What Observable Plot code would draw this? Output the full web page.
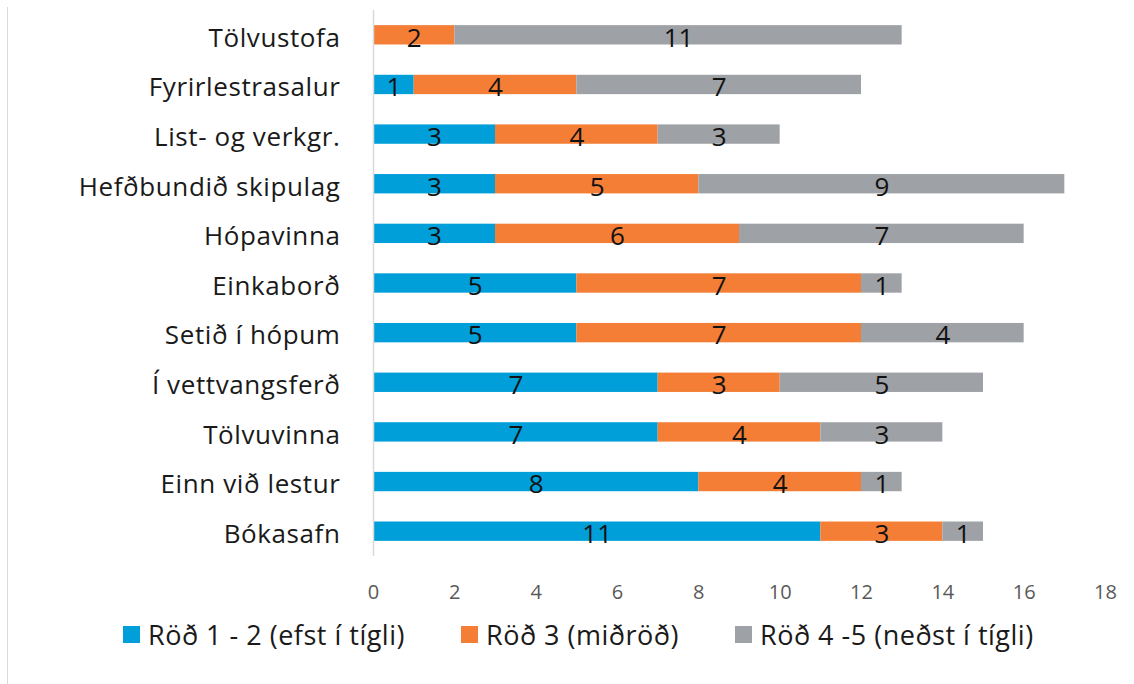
<!DOCTYPE html>
<html>
<head>
<meta charset="utf-8">
<script src="https://cdn.jsdelivr.net/npm/d3@7"></script>
<script src="https://cdn.jsdelivr.net/npm/@observablehq/plot@0.6"></script>
<style>
  body { margin: 0; background: #fff; font-family: "Open Sans", sans-serif; }
  #wrap { position: relative; width: 1134px; height: 684px; overflow: hidden; }
  #border { position: absolute; left: 7px; top: 7px; bottom: 0; border-left: 1px solid #d9d9d9; }
  #legend { position: absolute; top: 615px; left: 0; width: 1134px; height: 38px; font-size: 27px; letter-spacing: 0.5px; color: #1a1a1a; }
  .li { position: absolute; top: 0; height: 38px; display: flex; align-items: center; white-space: nowrap; }
  .sw { width: 17px; height: 17px; margin-right: 8px; }
  svg g[aria-label="y-axis tick label"] text { letter-spacing: 0.6px; }
</style>
</head>
<body>
<div id="wrap"><div id="border"></div><div id="chart"></div><div id="legend"></div></div>
<script>
const categories = ["Tölvustofa", "Fyrirlestrasalur", "List- og verkgr.", "Hefðbundið skipulag", "Hópavinna", "Einkaborð", "Setið í hópum", "Í vettvangsferð", "Tölvuvinna", "Einn við lestur", "Bókasafn"];
const series = ["Röð 1 - 2 (efst í tígli)", "Röð 3 (miðröð)", "Röð 4 -5 (neðst í tígli)"];
const blueValues = [0, 1, 3, 3, 3, 5, 5, 7, 7, 8, 11];
const orangeValues = [2, 4, 4, 5, 6, 7, 7, 3, 4, 4, 3];
const grayValues = [11, 7, 3, 9, 7, 1, 4, 5, 3, 1, 1];
const colors = ["#009fd9", "#f47e36", "#9ea1a5"];
const xTicks = [0, 2, 4, 6, 8, 10, 12, 14, 16, 18];
const legendLeft = [123, 461, 735];

const seriesValues = [blueValues, orangeValues, grayValues];
const data = [];
series.forEach((s, si) => categories.forEach((c, ci) => {
  const v = seriesValues[si][ci];
  if (v > 0) data.push({cat: c, series: s, value: v});
}));

const chart = Plot.plot({
  width: 1134,
  height: 610,
  marginLeft: 373,
  marginRight: 29,
  marginTop: 10,
  marginBottom: 54,
  style: {fontFamily: "'Open Sans', sans-serif", background: "transparent"},
  x: {domain: [0, 18], ticks: xTicks, label: null},
  y: {domain: categories, paddingInner: 0.61, paddingOuter: 0.305, round: false, label: null},
  color: {domain: series, range: colors},
  marks: [
    Plot.barX(data, Plot.stackX({x: "value", y: "cat", fill: "series", z: "series", order: series})),
    Plot.text(data, Plot.stackX({x: "value", y: "cat", z: "series", text: "value", order: series, fill: "#111", fontSize: 26, dy: 3})),
    Plot.ruleX([0], {stroke: "#d9d9d9", strokeWidth: 1.5}),
    Plot.axisX({ticks: xTicks, tickSize: 0, tickPadding: 28, fontSize: 20, color: "#595959", label: null}),
    Plot.axisY({tickSize: 0, tickPadding: 33, fontSize: 26, color: "#1a1a1a", dy: 3, label: null})
  ]
});
document.getElementById("chart").appendChild(chart);

const legend = document.getElementById("legend");
series.forEach((s, i) => {
  const item = document.createElement("div");
  item.className = "li";
  item.style.left = legendLeft[i] + "px";
  const sw = document.createElement("div");
  sw.className = "sw";
  sw.style.background = colors[i];
  const t = document.createElement("span");
  t.textContent = s;
  item.appendChild(sw);
  item.appendChild(t);
  legend.appendChild(item);
});
</script>
</body>
</html>
